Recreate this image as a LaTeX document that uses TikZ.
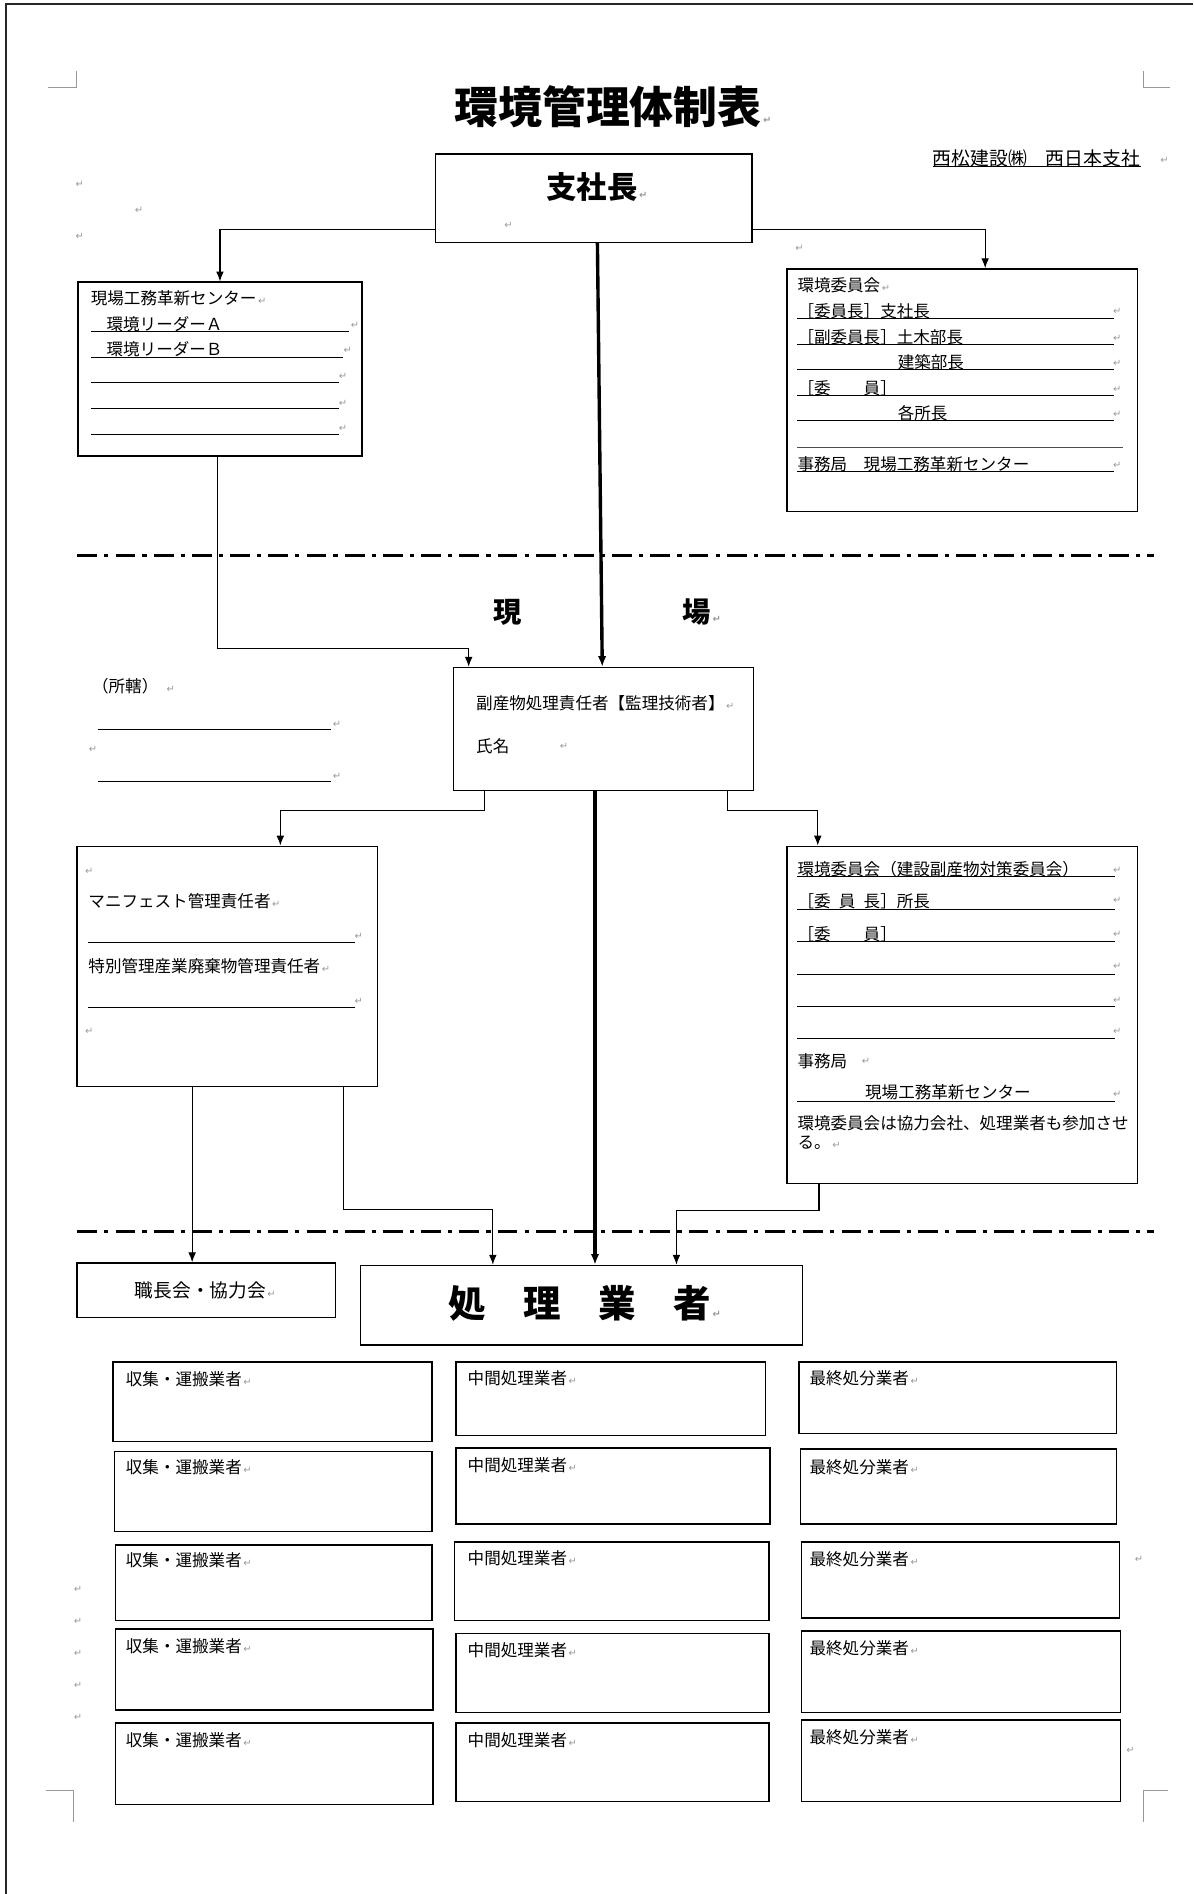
\documentclass[tikz,border=0pt]{standalone}
\usepackage{fontspec}
\setmainfont{Noto Sans CJK JP}
\newfontfamily\kigofont{DejaVu Sans}
\usetikzlibrary{arrows.meta}
\newlength\pxu
\setlength\pxu{0.03cm}
\newcommand\honbun{\fontsize{11.7}{14}\selectfont}
\newcommand\kai{{\kigofont\color{black!40}\fontsize{7}{7}\selectfont\,↵}}
\begin{document}
\begin{tikzpicture}[x=0.03cm,y=-0.03cm,
  waku/.style={draw,line width=1pt,rectangle,inner sep=0pt,anchor=north west},
  moji/.style={anchor=west,inner sep=0pt,font=\honbun},
  kaig/.style={inner sep=0pt,font=\kigofont\fontsize{7}{7}\selectfont,text=black!40},
  sen/.style={line width=0.7pt},
  ya/.style={->,>={Latex[length=7pt,width=5.5pt]},line width=0.8pt},
  futo/.style={->,>={Latex[length=7.5pt,width=6pt]},line width=2.4pt},
  kugiri/.style={line width=2pt,dash pattern=on 14pt off 5pt on 3pt off 5pt},
  tombo/.style={line width=0.6pt,black!40}]
\useasboundingbox (0,0) rectangle (988,1568);
% page frame and crop marks
\draw[line width=1.2pt,black!85] (988,3.3) -- (5,3.3) -- (5,1568);
\draw[tombo] (40,72) -- (63,72) -- (63,59);
\draw[tombo] (947,59) -- (947,72) -- (969,72);
\draw[tombo] (38,1482) -- (61,1482) -- (61,1508);
\draw[tombo] (947,1508) -- (947,1482) -- (967,1482);
% title
\node[anchor=west,inner sep=0pt,font=\fontsize{31}{31}\selectfont\bfseries] (title) at (376,88) {環境管理体制表\kai};
\node[anchor=west,inner sep=0pt,font=\fontsize{13.3}{15}\selectfont] (company) at (772,131) {西松建設㈱　西日本支社};
\draw[sen] (772,138) -- (945,138);
% head office
\node[waku,minimum width=262\pxu,minimum height=73\pxu] (SH) at (360,127) {};
\node[anchor=west,inner sep=0pt,font=\fontsize{21.5}{22}\selectfont\bfseries] (tSH) at (452,154.5) {支社長\kai};
\node[waku,minimum width=235\pxu,minimum height=144\pxu] (GK) at (64,233) {};
\node[waku,minimum width=290\pxu,minimum height=201\pxu] (IN) at (651,222) {};
% center box texts
\node[moji] (tGK1) at (75,247) {現場工務革新センター\kai};
\node[moji] (tGK2) at (88,268) {環境リーダーＡ};
\node[moji] (tGK3) at (88,289) {環境リーダーＢ};
\draw[sen] (75,274.5) -- (289,274.5);
\draw[sen] (75,296) -- (284,296);
\draw[sen] (75,317) -- (281,317);
\draw[sen] (75,338.5) -- (281,338.5);
\draw[sen] (75,360) -- (281,360);
% committee texts
\node[moji] (tIN1) at (660,236) {環境委員会\kai};
\node[moji] (tIN2) at (660,258) {［委員長］支社長};
\node[moji] (tIN3) at (660,279) {［副委員長］土木部長};
\node[moji] (tIN4) at (743,300) {建築部長};
\node[moji] (tIN5) at (660,321) {［委　　員］};
\node[moji] (tIN6) at (743,342) {各所長};
\node[moji] (tIN7) at (660,384) {事務局　現場工務革新センター};
\draw[sen] (660,264) -- (922.6,264);
\draw[sen] (660,285) -- (922.6,285);
\draw[sen] (660,306) -- (922.6,306);
\draw[sen] (660,327.4) -- (922.6,327.4);
\draw[sen] (660,348.4) -- (922.6,348.4);
\draw[line width=1pt,black!70] (660,370.5) -- (929.6,370.5);
\draw[sen] (660,390) -- (922.6,390);
% site
\draw[kugiri] (64,460) -- (955,460);
\node[anchor=west,inner sep=0pt,font=\fontsize{20}{20}\selectfont\bfseries] (gen) at (408,507) {現};
\node[anchor=west,inner sep=0pt,font=\fontsize{20}{20}\selectfont\bfseries] (ba) at (565,507) {場\kai};
\node[waku,minimum width=248\pxu,minimum height=102\pxu] (FK) at (375,552) {};
\node[moji] (tFK1) at (394,582) {副産物処理責任者【監理技術者】\kai};
\node[moji] (tFK2) at (394,618) {氏名};
\node[moji] (shokan) at (76,568) {（所轄）\hspace{.4em}\kai};
\draw[sen] (81,604) -- (274,604);
\draw[sen] (81,647) -- (274,647);
\node[waku,minimum width=249\pxu,minimum height=199\pxu] (MN) at (63,700) {};
\node[moji] (tMN1) at (73,746) {マニフェスト管理責任者\kai};
\node[moji] (tMN2) at (73,800) {特別管理産業廃棄物管理責任者\kai};
\draw[sen] (73,780.5) -- (294,780.5);
\draw[sen] (73,834) -- (294,834);
\node[waku,minimum width=290\pxu,minimum height=279\pxu] (IG) at (651,700) {};
\node[moji] (tIG1) at (660,720) {環境委員会（建設副産物対策委員会）};
\node[moji] (tIG2) at (660,746) {［委\hspace{.5em}員\hspace{.5em}長］所長};
\node[moji] (tIG3) at (660,773) {［委　　員］};
\node[moji] (tIG4) at (660,878.5) {事務局};
\node[moji] (tIG5) at (716,904) {現場工務革新センター};
\node[moji] (tIG6) at (660,929.6) {環境委員会は協力会社、処理業者も参加させ};
\node[moji] (tIG7) at (660,946) {る。\kai};
\draw[sen] (660,726) -- (922.7,726);
\draw[sen] (660,753) -- (922.7,753);
\draw[sen] (660,779.7) -- (922.7,779.7);
\draw[sen] (660,806.8) -- (922.7,806.8);
\draw[sen] (660,833.4) -- (922.7,833.4);
\draw[sen] (660,860) -- (922.7,860);
\draw[sen] (660,911.6) -- (922.7,911.6);
% contractors
\draw[kugiri] (64,1019.5) -- (955,1019.5);
\node[waku,minimum width=214\pxu,minimum height=45\pxu] (SK) at (63,1045) {};
\node[inner sep=0pt,font=\fontsize{13.2}{14}\selectfont] (tSK) at (170,1068.5) {職長会・協力会\kai};
\node[waku,minimum width=366\pxu,minimum height=66\pxu] (GS) at (298,1047) {};
\node[anchor=west,inner sep=0pt,font=\fontsize{26.5}{27}\selectfont\bfseries] (tGS) at (371,1079) {処　理　業　者\kai};
\node[waku,minimum width=264\pxu,minimum height=66\pxu] (U1) at (93,1127) {};
\node[waku,minimum width=263\pxu,minimum height=66.5\pxu] (U2) at (94,1201) {};
\node[waku,minimum width=262\pxu,minimum height=62.5\pxu] (U3) at (95,1278.5) {};
\node[waku,minimum width=263\pxu,minimum height=67\pxu] (U4) at (95,1348) {};
\node[waku,minimum width=263\pxu,minimum height=67.5\pxu] (U5) at (95,1426) {};
\node[waku,minimum width=256\pxu,minimum height=61\pxu] (T1) at (377,1127) {};
\node[waku,minimum width=260\pxu,minimum height=63\pxu] (T2) at (377,1198) {};
\node[waku,minimum width=260.5\pxu,minimum height=65\pxu] (T3) at (375.5,1276) {};
\node[waku,minimum width=259\pxu,minimum height=65.5\pxu] (T4) at (377,1351.5) {};
\node[waku,minimum width=259\pxu,minimum height=65\pxu] (T5) at (377,1426) {};
\node[waku,minimum width=262.5\pxu,minimum height=59\pxu] (L1) at (661,1127) {};
\node[waku,minimum width=261.5\pxu,minimum height=62\pxu] (L2) at (662,1199) {};
\node[waku,minimum width=263\pxu,minimum height=63\pxu] (L3) at (663,1276) {};
\node[waku,minimum width=264\pxu,minimum height=67.5\pxu] (L4) at (663,1349.5) {};
\node[waku,minimum width=264\pxu,minimum height=67.5\pxu] (L5) at (663,1423.5) {};
\node[moji] (tU1) at (104,1142) {収集・運搬業者\kai};
\node[moji] (tU2) at (104,1215) {収集・運搬業者\kai};
\node[moji] (tU3) at (104,1292) {収集・運搬業者\kai};
\node[moji] (tU4) at (104,1362.5) {収集・運搬業者\kai};
\node[moji] (tU5) at (104,1441) {収集・運搬業者\kai};
\node[moji] (tT1) at (387,1141) {中間処理業者\kai};
\node[moji] (tT2) at (387,1213) {中間処理業者\kai};
\node[moji] (tT3) at (387,1290) {中間処理業者\kai};
\node[moji] (tT4) at (387,1366.5) {中間処理業者\kai};
\node[moji] (tT5) at (387,1441) {中間処理業者\kai};
\node[moji] (tL1) at (670,1141) {最終処分業者\kai};
\node[moji] (tL2) at (670,1215) {最終処分業者\kai};
\node[moji] (tL3) at (670,1291) {最終処分業者\kai};
\node[moji] (tL4) at (670,1364.5) {最終処分業者\kai};
\node[moji] (tL5) at (670,1438.5) {最終処分業者\kai};
% paragraph marks
\node[kaig] (r1) at (66,153) {↵};
\node[kaig] (r2) at (115,174) {↵};
\node[kaig] (r3) at (66,196) {↵};
\node[kaig] (r4) at (421,187) {↵};
\node[kaig] (r5) at (662,205.5) {↵};
\node[kaig] (r6) at (964,133) {↵};
\node[kaig] (r7) at (294,269) {↵};
\node[kaig] (r8) at (288,290) {↵};
\node[kaig] (r9) at (284,312) {↵};
\node[kaig] (r10) at (284,334) {↵};
\node[kaig] (r11) at (284,355) {↵};
\node[kaig] (r12) at (925,258) {↵};
\node[kaig] (r13) at (925,280) {↵};
\node[kaig] (r14) at (925,301) {↵};
\node[kaig] (r15) at (925,322) {↵};
\node[kaig] (r16) at (925,343) {↵};
\node[kaig] (r17) at (925,385) {↵};
\node[kaig] (r18) at (279,600) {↵};
\node[kaig] (r19) at (77,620) {↵};
\node[kaig] (r20) at (279,643) {↵};
\node[kaig] (r21) at (467,618) {↵};
\node[kaig] (r22) at (74,721) {↵};
\node[kaig] (r23) at (297,775) {↵};
\node[kaig] (r24) at (297,829) {↵};
\node[kaig] (r25) at (74,854) {↵};
\node[kaig] (r26) at (925,720.5) {↵};
\node[kaig] (r27) at (925,745.6) {↵};
\node[kaig] (r28) at (925,773.7) {↵};
\node[kaig] (r29) at (925,800) {↵};
\node[kaig] (r30) at (925,828) {↵};
\node[kaig] (r31) at (925,853.7) {↵};
\node[kaig] (r32) at (925,906) {↵};
\node[kaig] (r33) at (717,879) {↵};
\node[kaig] (r34) at (64.5,1316) {↵};
\node[kaig] (r35) at (64.5,1342) {↵};
\node[kaig] (r36) at (64.5,1369) {↵};
\node[kaig] (r37) at (64.5,1395) {↵};
\node[kaig] (r38) at (64.5,1421.7) {↵};
\node[kaig] (r39) at (943,1291) {↵};
\node[kaig] (r40) at (936,1449) {↵};
% connectors
\draw[ya] ([yshift=11\pxu]SH.south west) -| (GK.north);
\draw[ya] ([yshift=11\pxu]SH.south east) -| ([xshift=19\pxu]IN.north);
\draw[futo] ([xshift=3\pxu]SH.south) -- ([xshift=-1\pxu]FK.north);
\draw[ya] ([xshift=-2\pxu]GK.south) -- ++(0,159) -| ([xshift=13\pxu]FK.north west);
\draw[ya] ([xshift=26\pxu]FK.south west) -- ++(0,16) -| ([xshift=44\pxu]MN.north);
\draw[ya] ([xshift=-22\pxu]FK.south east) -- ++(0,16) -| ([xshift=26\pxu]IG.north west);
\coordinate (FKb) at ([xshift=-7\pxu]FK.south);
\draw[futo] (FKb) -- (FKb |- GS.north);
\coordinate (MNb) at ([xshift=-29\pxu]MN.south);
\draw[ya] (MNb) -- (MNb |- SK.north);
\draw[ya] ([xshift=-29\pxu]MN.south east) -- ++(0,101) -| ([xshift=110\pxu]GS.north west);
\draw[ya] ([xshift=27\pxu]IG.south west) -- ++(0,22) -| ([xshift=262\pxu]GS.north west);
\end{tikzpicture}
\end{document}
